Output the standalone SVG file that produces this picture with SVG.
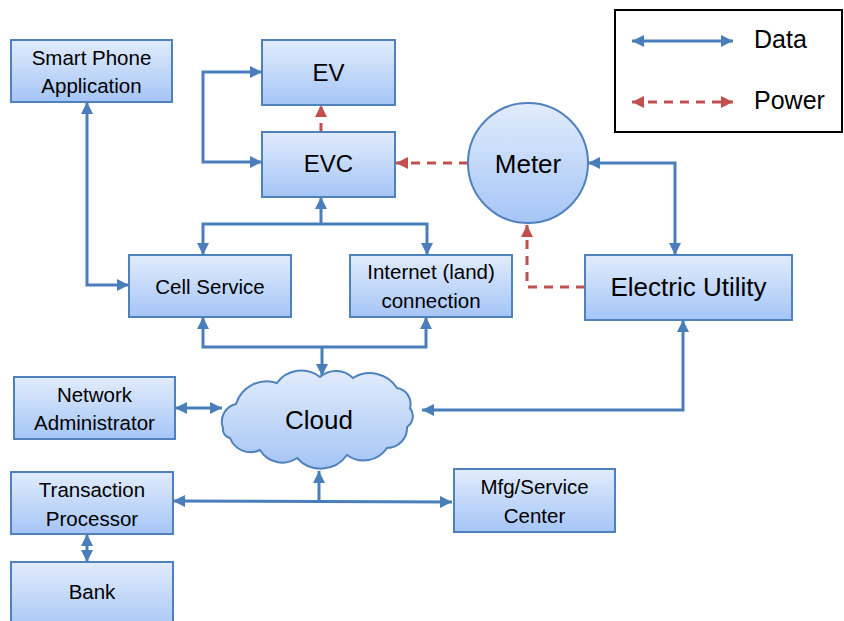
<svg xmlns="http://www.w3.org/2000/svg" width="844" height="621" viewBox="0 0 844 621">
<defs>
<linearGradient id="g" x1="0" y1="0" x2="0" y2="1">
<stop offset="0" stop-color="#e1ecfc"/>
<stop offset="1" stop-color="#a5c5f6"/>
</linearGradient>
<marker id="ab" viewBox="0 0 10 10" refX="10" refY="5" markerWidth="12" markerHeight="12" markerUnits="userSpaceOnUse" orient="auto-start-reverse">
<path d="M0,0 L10,5 L0,10 z" fill="#4a7ebb"/>
</marker>
<marker id="ar" viewBox="0 0 10 10" refX="10" refY="5" markerWidth="12" markerHeight="12" markerUnits="userSpaceOnUse" orient="auto-start-reverse">
<path d="M0,0 L10,5 L0,10 z" fill="#c0504d"/>
</marker>
</defs>
<style>
.box{fill:url(#g);stroke:#4f81bd;stroke-width:2}
.t{font-family:"Liberation Sans",Arial,sans-serif;font-size:20.5px;fill:#000;text-anchor:middle}
.tm{font-size:24px}
.tl{font-size:26px}
.d{fill:none;stroke:#4a7ebb;stroke-width:3}
.p{fill:none;stroke:#c0504d;stroke-width:3;stroke-dasharray:9 7}
.db{marker-start:url(#ab);marker-end:url(#ab)}
.de{marker-end:url(#ab)}
.ds{marker-start:url(#ab)}
.pe{marker-end:url(#ar)}
.pb{marker-start:url(#ar);marker-end:url(#ar)}
</style>
<rect width="844" height="621" fill="#fff"/>

<g id="connectors">
<path class="d db" d="M262,72 H203 V162 H262"/>
<path class="p pe" d="M321,132 V105"/>
<path class="p pe" d="M468,163 H396"/>
<path class="d ds" d="M321,197 V224"/>
<path class="d db" d="M203,255 V224 H427 V255"/>
<path class="d db" d="M87,102 V285 H129"/>
<path class="d db" d="M588,163 H675 V255"/>
<path class="p pe" d="M585,287 H527 V225"/>
<path class="d db" d="M203,317 V347 H426 V317"/>
<path class="d de" d="M322,347 V376"/>
<path class="d db" d="M175,408 H222"/>
<path class="d db" d="M683,320 V410 H422"/>
<path class="d db" d="M173,501 L452,502"/>
<path class="d de" d="M319,501 V471"/>
<path class="d db" d="M87,534 V562"/>
</g>

<g id="legend">
<rect x="615" y="10" width="227" height="122" fill="#fff" stroke="#000" stroke-width="2"/>
<path class="d db" d="M632,41 H733"/>
<path class="p pb" d="M632,102 H733" stroke-dasharray="12 9"/>
<text class="t" x="754" y="48" style="text-anchor:start;font-size:25px">Data</text>
<text class="t" x="754" y="109" style="text-anchor:start;font-size:25px">Power</text>
</g>

<g id="smartphone">
<rect class="box" x="11" y="40" width="161" height="62"/>
<text class="t" x="91.5" y="65">Smart Phone</text>
<text class="t" x="91.5" y="93">Application</text>
</g>
<g id="ev">
<rect class="box" x="262" y="40" width="133" height="65"/>
<text class="t tm" x="328.5" y="81">EV</text>
</g>
<g id="evc">
<rect class="box" x="262" y="132" width="133" height="65"/>
<text class="t tm" x="328.5" y="172">EVC</text>
</g>
<g id="meter">
<circle class="box" cx="528" cy="163" r="60"/>
<text class="t tl" x="528" y="173">Meter</text>
</g>
<g id="cell">
<rect class="box" x="129" y="255" width="162" height="62"/>
<text class="t" x="210" y="294">Cell Service</text>
</g>
<g id="internet">
<rect class="box" x="350" y="255" width="162" height="62"/>
<text class="t" x="431" y="279">Internet (land)</text>
<text class="t" x="431" y="308">connection</text>
</g>
<g id="utility">
<rect class="box" x="585" y="255" width="207" height="65"/>
<text class="t tl" x="688.5" y="296">Electric Utility</text>
</g>
<g id="netadmin">
<rect class="box" x="14" y="377" width="161" height="62"/>
<text class="t" x="94.5" y="402">Network</text>
<text class="t" x="94.5" y="430">Administrator</text>
</g>
<g id="cloud">
<path class="box" d="M223,428 A18,18 0 0 1 236,404 A32,32 0 0 1 277,383 A30,30 0 0 1 320,377 A24,24 0 0 1 353,378 A32,32 0 0 1 397,388 A16,16 0 0 1 410,408 A13,13 0 0 1 407,427 A20,20 0 0 1 387,448 A28,28 0 0 1 347,455 A32,32 0 0 1 297,458 A26,26 0 0 1 260,450 A22,22 0 0 1 230,438 A9,9 0 0 1 223,428 Z"/>
<text class="t tl" x="319" y="429">Cloud</text>
</g>
<g id="transaction">
<rect class="box" x="11" y="472" width="162" height="62"/>
<text class="t" x="92" y="497">Transaction</text>
<text class="t" x="92" y="526">Processor</text>
</g>
<g id="bank">
<rect class="box" x="11" y="562" width="162" height="70"/>
<text class="t" x="92" y="599">Bank</text>
</g>
<g id="mfg">
<rect class="box" x="454" y="469" width="161" height="63"/>
<text class="t" x="534.5" y="494">Mfg/Service</text>
<text class="t" x="534.5" y="523">Center</text>
</g>
</svg>
